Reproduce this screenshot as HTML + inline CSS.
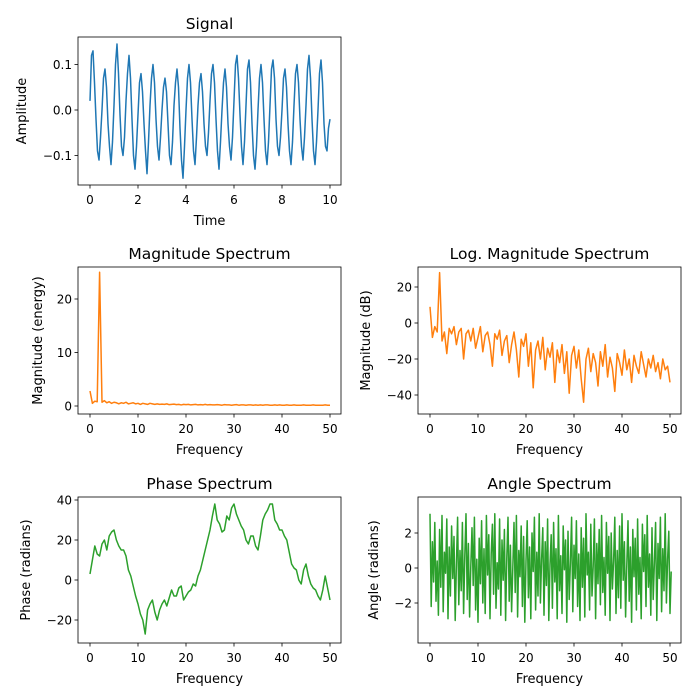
<!DOCTYPE html>
<html><head><meta charset="utf-8"><style>
html,body{margin:0;padding:0;background:#fff;width:700px;height:700px;overflow:hidden}
svg text{font-family:"DejaVu Sans","Liberation Sans",sans-serif;fill:#000}
</style></head><body>
<svg id="fig" width="700" height="700" viewBox="0 0 700 700" xmlns="http://www.w3.org/2000/svg"></svg>
<script>
const signalValues=[0.02,0.12,0.13,0.06,-0.02,-0.09,-0.11,-0.06,
0.00,0.07,0.09,0.05,-0.03,-0.08,-0.12,-0.07,
0.01,0.10,0.145,0.08,-0.01,-0.08,-0.10,-0.06,
0.02,0.08,0.12,0.07,-0.02,-0.10,-0.13,-0.08,
-0.01,0.06,0.08,0.04,-0.03,-0.09,-0.14,-0.07,
0.01,0.07,0.10,0.06,-0.02,-0.08,-0.11,-0.06,
0.00,0.05,0.07,0.04,-0.03,-0.10,-0.12,-0.07,
0.01,0.06,0.09,0.05,-0.04,-0.11,-0.15,-0.08,
0.00,0.07,0.10,0.06,-0.02,-0.09,-0.12,-0.06,
0.01,0.06,0.08,0.04,-0.03,-0.08,-0.10,-0.05,
0.02,0.08,0.10,0.06,-0.02,-0.09,-0.13,-0.07,
0.00,0.06,0.09,0.05,-0.03,-0.08,-0.11,-0.06,
0.02,0.10,0.12,0.07,-0.01,-0.08,-0.12,-0.07,
0.01,0.09,0.11,0.06,-0.03,-0.10,-0.13,-0.08,
0.00,0.07,0.10,0.06,-0.02,-0.09,-0.12,-0.07,
0.01,0.09,0.11,0.07,-0.02,-0.08,-0.10,-0.06,
0.00,0.07,0.09,0.05,-0.03,-0.09,-0.12,-0.07,
0.01,0.08,0.10,0.06,-0.02,-0.08,-0.11,-0.06,
0.01,0.09,0.12,0.07,-0.02,-0.09,-0.12,-0.07,
0.00,0.08,0.11,0.06,-0.03,-0.08,-0.09,-0.04,-0.02];
const magValues=[2.8,0.5,0.9,0.8,25,0.7,1.0,0.6,0.8,0.5,0.7,0.6,0.4,0.6,0.5,0.7,0.4,0.5,0.6,0.4,0.5,0.3,0.5,0.4,0.3,0.5,0.4,0.3,0.4,0.3,0.35,0.3,0.4,0.25,0.3,0.35,0.25,0.3,0.2,0.3,0.25,0.3,0.2,0.25,0.3,0.2,0.25,0.2,0.3,0.2,0.25,0.2,0.2,0.25,0.2,0.15,0.25,0.2,0.2,0.15,0.2,0.25,0.15,0.2,0.2,0.15,0.2,0.2,0.15,0.2,0.15,0.2,0.15,0.2,0.2,0.15,0.15,0.2,0.15,0.2,0.15,0.15,0.2,0.15,0.15,0.2,0.15,0.15,0.15,0.2,0.15,0.15,0.15,0.2,0.15,0.15,0.15,0.15,0.2,0.15,0.15];
const logMagValues=[9,-8,-2,-5,28,-10,-5,-17,-3,-6,-2,-12,-5,-3,-20,-6,-4,-10,-3,-14,-8,-2,-16,-7,-5,-12,-24,-6,-9,-4,-18,-10,-7,-22,-12,-5,-15,-30,-9,-13,-6,-24,-11,-36,-15,-10,-20,-8,-26,-14,-19,-11,-33,-15,-22,-12,-28,-16,-39,-18,-13,-25,-15,-31,-44,-20,-14,-27,-17,-22,-35,-16,-24,-12,-30,-19,-25,-38,-17,-22,-29,-15,-26,-20,-33,-18,-24,-28,-16,-23,-30,-20,-25,-18,-27,-22,-31,-20,-26,-24,-33];
const phaseValues=[3,10,17,13,12,18,20,15,22,24,25,20,17,15,15,12,5,2,-3,-8,-12,-17,-20,-27,-15,-12,-10,-16,-20,-15,-12,-10,-13,-9,-5,-8,-8,-4,-3,-10,-8,-6,-5,-2,-3,2,5,10,15,20,25,32,38,30,28,24,25,32,30,36,38,33,30,27,25,20,18,22,22,17,15,22,30,33,35,38,38,30,28,25,25,22,20,14,8,6,5,0,-2,5,8,2,-2,-4,-5,-8,-10,-5,2,-4,-10];
const angleValues=[3.1,-2.2,1.5,-0.8,2.6,-1.9,0.4,-2.7,2.2,-1.1,3.0,-2.5,0.9,-0.3,2.8,-2.9,1.2,-1.6,2.4,-0.6,1.8,-3.0,0.2,2.9,-2.1,1.0,-1.3,2.6,-2.6,0.7,3.1,-1.8,1.4,-2.8,0.1,2.3,-1.0,2.9,-2.4,0.5,-3.1,1.7,-0.9,2.7,-2.0,1.1,-2.6,3.0,-0.4,1.9,-2.9,0.8,2.5,-1.5,3.1,-2.3,0.3,-1.2,2.8,-2.7,1.6,-0.7,2.2,-3.0,0.6,2.9,-1.9,1.3,-2.5,0.0,2.6,-1.4,3.0,-2.8,1.0,-0.5,2.4,-2.2,1.8,-3.1,0.4,2.7,-1.7,1.2,-2.9,2.0,-0.2,2.9,-2.4,0.9,-1.6,3.1,-2.0,0.5,2.3,-2.7,1.5,-1.0,2.8,-3.0,0.2,1.9,-2.3,2.6,-0.8,1.1,-2.9,3.0,-1.3,0.7,-2.6,2.4,-0.1,1.6,-3.1,2.1,-1.8,0.3,2.9,-2.5,1.3,-0.6,2.7,-2.2,0.8,-3.0,2.3,-1.1,1.7,-2.8,3.1,-0.4,0.9,-2.4,2.5,-1.6,0.1,2.8,-2.9,1.4,-0.9,2.2,-2.1,3.0,-1.4,0.6,-2.7,2.6,-0.3,1.8,-3.0,2.0,-1.2,0.4,2.9,-2.6,1.0,-1.7,2.4,-2.3,3.1,-0.7,1.5,-2.8,0.2,2.7,-1.9,1.2,-3.1,2.2,-0.5,1.7,-2.4,2.8,-1.5,0.6,-2.9,2.5,-0.2,1.9,-2.2,3.0,-1.1,0.8,-2.7,2.3,-1.8,0.3,2.6,-3.0,1.4,-0.6,2.9,-2.5,1.1,-1.3,3.1,-2.0,0.5,2.1,-2.6,-0.2];
const signalXTicks=[0,2,4,6,8,10];
const signalYTicks=[-0.1,0.0,0.1];
const freqTicks=[0,10,20,30,40,50];
const magYTicks=[0,10,20];
const logYTicks=[-40,-20,0,20];
const phaseYTicks=[-20,0,20,40];
const angleYTicks=[-2,0,2];

const NS="http://www.w3.org/2000/svg";
const svg=document.getElementById('fig');
function mk(tag,attrs,parent){const e=document.createElementNS(NS,tag);for(const k in attrs)e.setAttribute(k,attrs[k]);(parent||svg).appendChild(e);return e;}
function panel(o){
  const g=mk('g',{});
  
  
  const sx=v=>o.x0+(v-o.xa)/(o.xb-o.xa)*(o.x1-o.x0);
  const sy=v=>o.y0+(v-o.ya)/(o.yb-o.ya)*(o.y1-o.y0);
  let pts=o.vals.map((v,i)=>sx(o.xs(i)).toFixed(2)+','+sy(v).toFixed(2)).join(' ');
  const clip=mk('clipPath',{id:'c'+o.name},g);
  mk('rect',{x:o.L,y:o.T,width:o.R-o.L,height:o.B-o.T},clip);
  const line=mk('polyline',{points:pts,fill:'none',stroke:o.color,'stroke-width':1.5,'stroke-linejoin':'round','clip-path':'url(#c'+o.name+')'},g);
  
  
  const frame=mk('rect',{x:o.L,y:o.T,width:o.R-o.L,height:o.B-o.T,fill:'none',stroke:'#000','stroke-width':0.8},g);
  
  
  o.xt.forEach(t=>{const x=sx(t);mk('line',{x1:x,x2:x,y1:o.B,y2:o.B+3.5,stroke:'#000','stroke-width':0.8},g);
    const tx=mk('text',{x:x,y:o.B+19,'font-size':12,'text-anchor':'middle'},g);tx.textContent=o.xf(t);
    
    });
  o.yt.forEach(t=>{const y=sy(t);mk('line',{x1:o.L,x2:o.L-3.5,y1:y,y2:y,stroke:'#000','stroke-width':0.8},g);
    const tx=mk('text',{x:o.L-6,y:y+4.5,'font-size':12,'text-anchor':'end'},g);tx.textContent=o.yf(t);
    
    });
  const ti=mk('text',{x:(o.L+o.R)/2,y:o.T-8,'font-size':15.5,'text-anchor':'middle'},g);ti.textContent=o.title;
  
  
  const xl=mk('text',{x:(o.L+o.R)/2,y:o.B+40,'font-size':13,'text-anchor':'middle'},g);xl.textContent=o.xlabel;
  
  
  const yx=o.ylx,yy=(o.T+o.B)/2;
  const yl=mk('text',{x:yx,y:yy,'font-size':13,'text-anchor':'middle',transform:'rotate(-90 '+yx+' '+yy+')'},g);yl.textContent=o.ylabel;
  
  
}
const fmtS=t=>t<0?'\u2212'+Math.abs(t).toFixed(1):t.toFixed(1);
const fmtI=t=>t<0?'\u2212'+Math.abs(t):String(t);
panel({name:'signal',L:78,R:341,T:37,B:185,x0:90,x1:330,xa:0,xb:10,y0:110,y1:64.5,ya:0,yb:0.1,
  vals:signalValues,xs:i=>i*0.0625,color:'#1f77b4',xt:signalXTicks,yt:signalYTicks,xf:String,yf:fmtS,
  title:'Signal',xlabel:'Time',ylabel:'Amplitude',ylx:26});
panel({name:'magnitude',L:78,R:341,T:267,B:414,x0:90,x1:330,xa:0,xb:50,y0:406,y1:299,ya:0,yb:20,
  vals:magValues,xs:i=>i*0.5,color:'#ff7f0e',xt:freqTicks,yt:magYTicks,xf:String,yf:fmtI,
  title:'Magnitude Spectrum',xlabel:'Frequency',ylabel:'Magnitude (energy)',ylx:42});
panel({name:'log-magnitude',L:418,R:681,T:267,B:414,x0:430,x1:670,xa:0,xb:50,y0:323,y1:287,ya:0,yb:20,
  vals:logMagValues,xs:i=>i*0.5,color:'#ff7f0e',xt:freqTicks,yt:logYTicks,xf:String,yf:fmtI,
  title:'Log. Magnitude Spectrum',xlabel:'Frequency',ylabel:'Magnitude (dB)',ylx:370});
panel({name:'phase',L:78,R:341,T:497,B:643,x0:90,x1:330,xa:0,xb:50,y0:580,y1:540,ya:0,yb:20,
  vals:phaseValues,xs:i=>i*0.5,color:'#2ca02c',xt:freqTicks,yt:phaseYTicks,xf:String,yf:fmtI,
  title:'Phase Spectrum',xlabel:'Frequency',ylabel:'Phase (radians)',ylx:30});
panel({name:'angle',L:418,R:681,T:497,B:643,x0:430,x1:670,xa:0,xb:50,y0:568,y1:533,ya:0,yb:2,
  vals:angleValues,xs:i=>i*0.25,color:'#2ca02c',xt:freqTicks,yt:angleYTicks,xf:String,yf:fmtI,
  title:'Angle Spectrum',xlabel:'Frequency',ylabel:'Angle (radians)',ylx:378});
</script>
</body></html>
